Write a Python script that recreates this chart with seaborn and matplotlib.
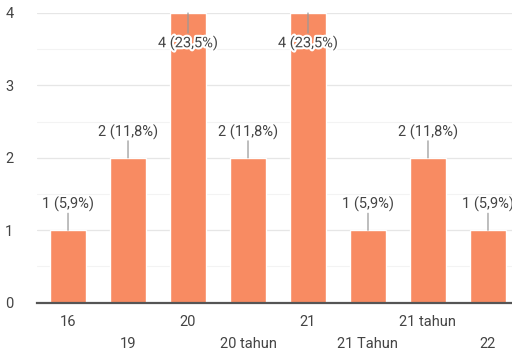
import matplotlib
matplotlib.use("Agg")
import matplotlib.pyplot as plt
import matplotlib.patheffects as pe
import seaborn as sns
import pandas as pd
import numpy as np

categories = ["16", "19", "20", "20 tahun", "21", "21 Tahun", "21 tahun", "22"]
counts = [1, 2, 4, 2, 4, 1, 2, 1]
labels = ["1 (5,9%)", "2 (11,8%)", "4 (23,5%)", "2 (11,8%)", "4 (23,5%)",
          "1 (5,9%)", "2 (11,8%)", "1 (5,9%)"]
yticks = [0, 1, 2, 3, 4]

sns.set_style("white")
plt.rcParams['font.family'] = ['Roboto', 'DejaVu Sans']

df = pd.DataFrame({"cat": categories, "n": counts})

fig = plt.figure(figsize=(5.12, 3.52), dpi=100)
ax = fig.add_axes([37/512, (352-302.7)/352, 482/512, (302.7-13)/352])

sns.barplot(data=df, x="cat", y="n", color="#F88B62", saturation=1,
            width=0.6, ax=ax, zorder=2)

ax.set_xlim(-0.517, len(categories) - 1 + 0.517)
ax.set_ylim(0, 4)
ax.set_yticks(yticks)
ax.set_yticks(np.arange(0.5, 4, 1), minor=True)
ax.grid(axis="y", which="major", color="#e6e6e6", linewidth=0.9, zorder=0)
ax.grid(axis="y", which="minor", color="#f3f3f3", linewidth=0.8, zorder=0)
ax.set_axisbelow(True)
ax.tick_params(axis="y", which="both", length=0, pad=17, labelsize=10.5, labelcolor="#444444")
ax.tick_params(axis="x", length=0, labelsize=10.5, labelcolor="#444444")
ax.set_xlabel("")
ax.set_ylabel("")
for s in ["top", "right", "left"]:
    ax.spines[s].set_visible(False)
ax.spines["bottom"].set_color("#555555")
ax.spines["bottom"].set_linewidth(1.6)
ax.spines["bottom"].set_zorder(3)

# staggered x tick labels
ax.set_xticks(range(len(categories)))
ax.set_xticklabels(categories)
for i, t in enumerate(ax.get_xticklabels()):
    t.set_y(0 if i % 2 == 0 else -0.075)
ax.tick_params(axis="x", pad=9)

ymax = 4
for i, (v, lab) in enumerate(zip(counts, labels)):
    if v >= ymax:
        ax.annotate("", xy=(i, v), xytext=(i, v), )
        ax.plot([i, i], [v, v], alpha=0)
        ax.annotate(lab, xy=(i, v), xytext=(0, -30), textcoords="offset pixels",
                    ha="center", va="center", fontsize=10.5, color="#444444", zorder=5,
                    path_effects=[pe.withStroke(linewidth=3, foreground="white")])
        ax.annotate("", xy=(i, v), xytext=(0, -20), textcoords="offset pixels",
                    arrowprops=dict(arrowstyle="-", color="#999999", lw=0.9,
                                    shrinkA=0, shrinkB=0), zorder=4)
    else:
        ax.annotate(lab, xy=(i, v), xytext=(0, 26), textcoords="offset pixels",
                    ha="center", va="center", fontsize=10.5, color="#444444", zorder=5)
        ax.annotate("", xy=(i, v), xytext=(0, 17), textcoords="offset pixels",
                    arrowprops=dict(arrowstyle="-", color="#999999", lw=0.9,
                                    shrinkA=0, shrinkB=0), zorder=4)

fig.savefig("out.png", dpi=100)
